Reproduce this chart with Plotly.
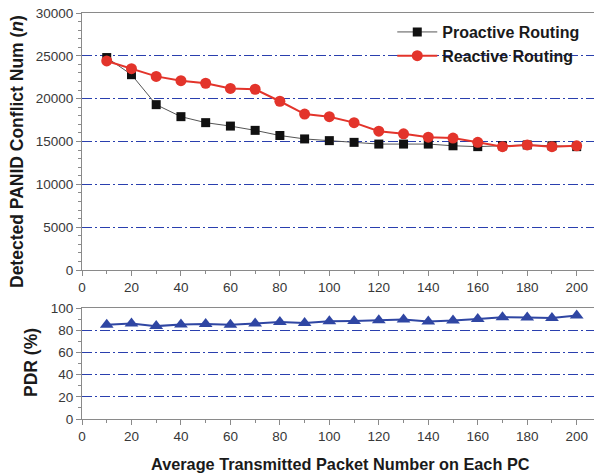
import plotly.graph_objects as go

x_vals = [10, 20, 30, 40, 50, 60, 70, 80, 90, 100, 110, 120, 130, 140, 150, 160, 170, 180, 190, 200]
proactive = [24800, 22800, 19300, 17900, 17200, 16800, 16300, 15700, 15300, 15100,
             14900, 14700, 14700, 14700, 14500, 14400, 14500, 14600, 14500, 14400]
reactive = [24400, 23500, 22600, 22100, 21800, 21200, 21100, 19700, 18200, 17900,
            17200, 16200, 15900, 15500, 15400, 14900, 14400, 14600, 14400, 14500]
pdr = [85.0, 86.2, 83.8, 85.3, 85.6, 85.0, 86.2, 87.6, 86.7, 88.2,
       88.5, 89.1, 89.7, 88.0, 88.8, 90.3, 91.8, 91.5, 91.2, 93.3]

FONT = "Liberation Sans, Arial, sans-serif"
GRID = "#2a3fae"
GRIDDASH = "10px,3px,2px,3px"
AXC = "#8a8a8a"
TICKC = "#383838"
TITLEC = "#1a1a1a"

L, W = 82, 512          # plot left / width in px
B, H = 54, 406          # bottom margin / plot height in px


def px_x(p):
    return (p - L) / W


def px_y(p):
    return (473 - B - p) / H


fig = go.Figure()
fig.add_trace(go.Scatter(x=x_vals, y=proactive, name="Proactive Routing", mode="lines+markers",
                         line=dict(color="#555555", width=1),
                         marker=dict(symbol="square", size=9, color="#111111"),
                         xaxis="x", yaxis="y"))
fig.add_trace(go.Scatter(x=x_vals, y=reactive, name="Reactive Routing", mode="lines+markers",
                         line=dict(color="#e3342b", width=2),
                         marker=dict(symbol="circle", size=11, color="#e3342b"),
                         xaxis="x", yaxis="y"))
fig.add_trace(go.Scatter(x=x_vals, y=pdr, name="PDR", mode="lines+markers", showlegend=False,
                         line=dict(color="#2f46a3", width=2),
                         marker=dict(symbol="triangle-up", size=12, color="#2f46a3"),
                         xaxis="x2", yaxis="y2"))

common_x = dict(range=[0, 207], tickvals=list(range(0, 201, 20)), ticks="outside", ticklen=5,
                tickcolor=AXC, showline=True, linecolor=AXC, linewidth=1, mirror=True,
                showgrid=False, zeroline=False,
                minor=dict(dtick=10, tick0=0, ticks="outside", ticklen=3, tickcolor=AXC, showgrid=False),
                tickfont=dict(family=FONT, size=13.5, color=TICKC))

common_y = dict(ticks="outside", ticklen=5, tickcolor=AXC, showline=True, linecolor=AXC,
                showgrid=True, gridcolor=GRID, griddash=GRIDDASH, gridwidth=1, zeroline=False,
                tickfont=dict(family=FONT, size=13.5, color=TICKC))

fig.update_layout(
    width=594, height=473,
    margin=dict(l=L, r=0, t=13, b=B),
    paper_bgcolor="white", plot_bgcolor="white",
    showlegend=True,
    legend=dict(x=0.606, y=0.995, xanchor="left", yanchor="top", bgcolor="rgba(0,0,0,0)",
                font=dict(family=FONT, size=16, color=TITLEC, weight="bold"),
                tracegroupgap=0, itemwidth=40),
    xaxis=dict(domain=[0, 1], anchor="y", **common_x),
    xaxis2=dict(domain=[0, 1], anchor="y2", **common_x),
    yaxis=dict(domain=[0.367, 1], anchor="x", range=[0, 30000], tickvals=list(range(0, 30001, 5000)),
               tickformat="d",
               minor=dict(dtick=1000, ticks="outside", ticklen=3, tickcolor=AXC, showgrid=False),
               **common_y),
    yaxis2=dict(domain=[0, 0.273], anchor="x2", range=[0, 100], tickvals=list(range(0, 101, 20)),
                minor=dict(dtick=10, ticks="outside", ticklen=3, tickcolor=AXC, showgrid=False),
                **common_y),
    annotations=[
        dict(text="<b>Average Transmitted Packet Number on Each PC</b>",
             xref="paper", yref="paper", x=px_x(340), y=px_y(464),
             xanchor="center", yanchor="middle", showarrow=False,
             font=dict(family=FONT, size=16.3, color=TITLEC)),
        dict(text="<b>Detected PANID Conflict Num (<i>n</i>)</b>", textangle=-90,
             xref="paper", yref="paper", x=px_x(17), y=px_y(152),
             xanchor="center", yanchor="middle", showarrow=False,
             font=dict(family=FONT, size=17.5, color=TITLEC)),
        dict(text="<b>PDR (%)</b>", textangle=-90,
             xref="paper", yref="paper", x=px_x(31), y=px_y(363),
             xanchor="center", yanchor="middle", showarrow=False,
             font=dict(family=FONT, size=17.5, color=TITLEC)),
    ],
)

fig.write_html("out.html", config={"displayModeBar": False},
               post_script="document.body.style.margin='0';document.body.style.overflow='hidden';")
